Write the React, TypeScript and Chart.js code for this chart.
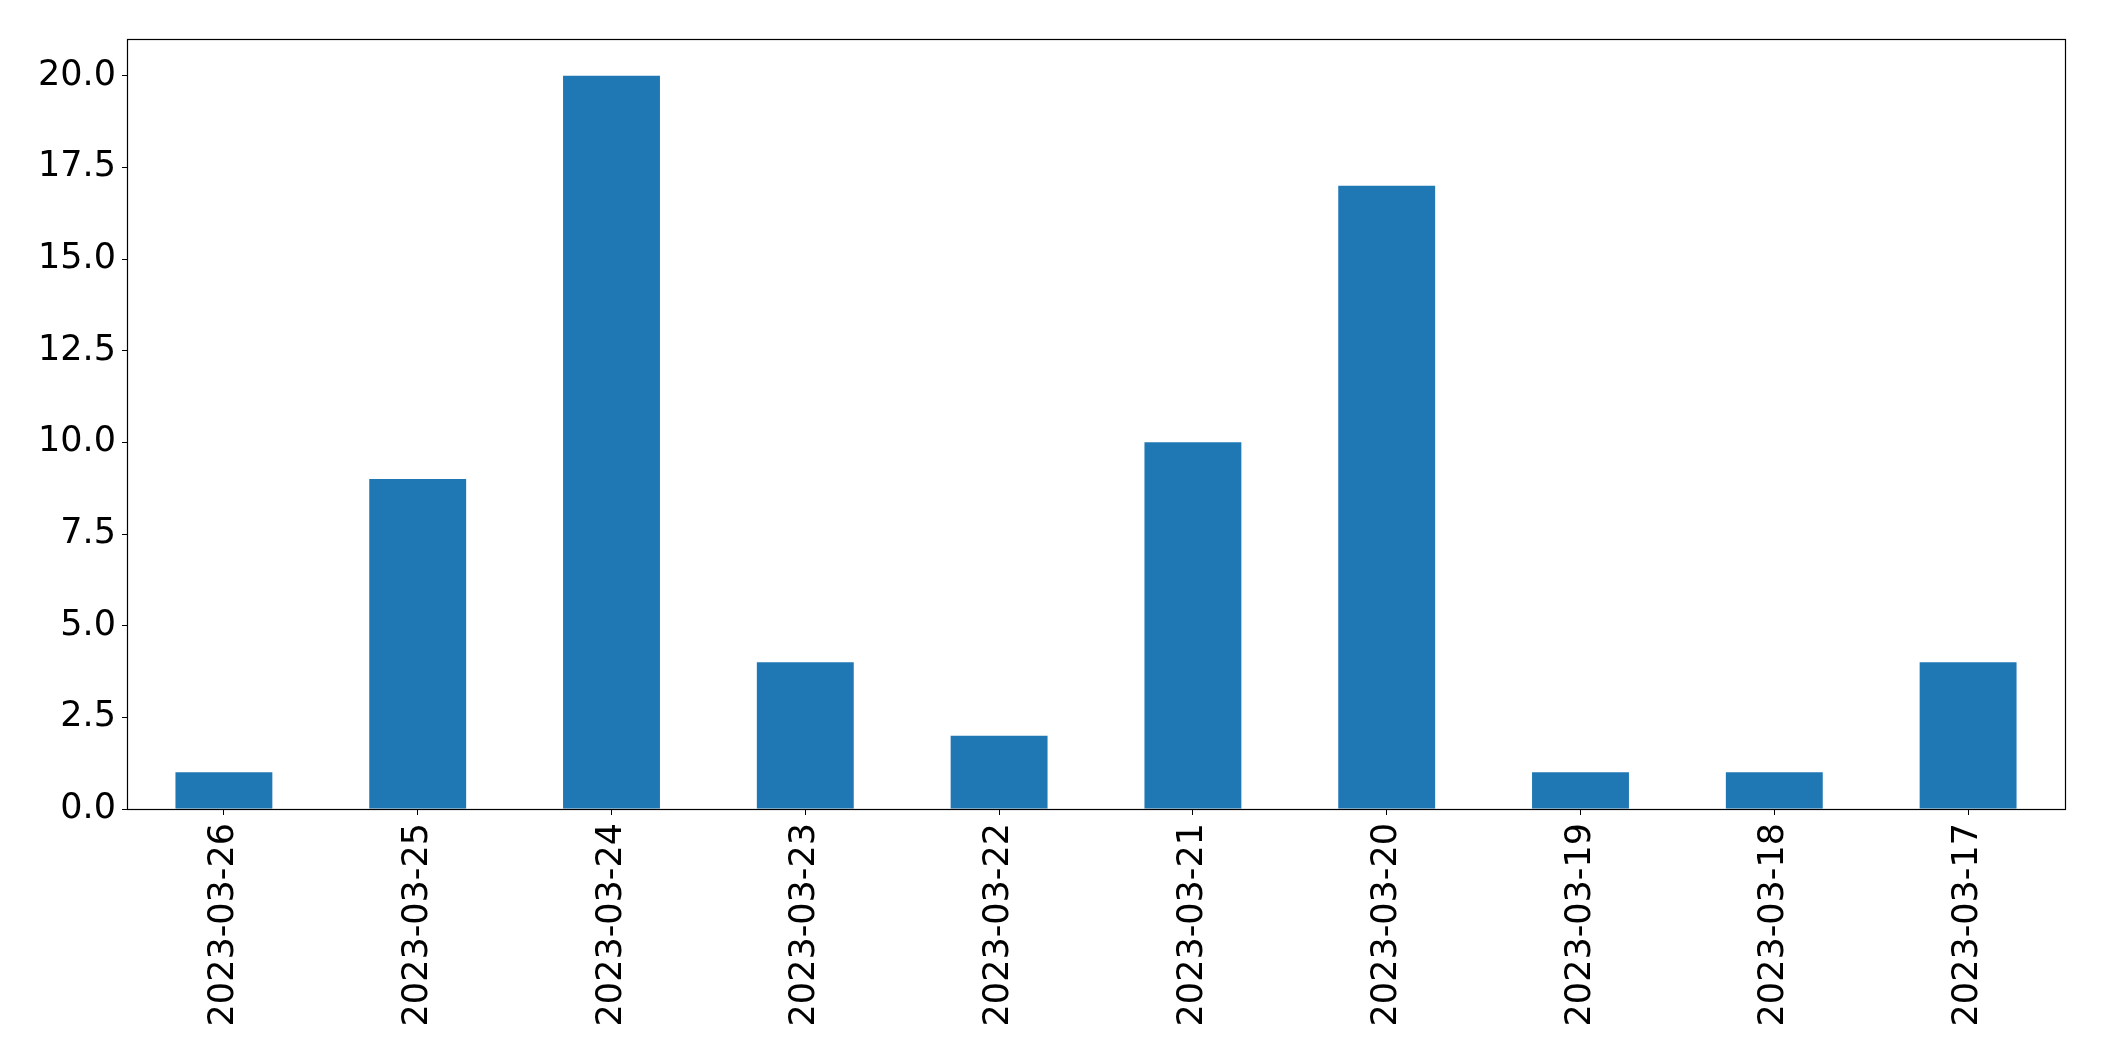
import React, { useEffect, useRef } from "react";
import { Chart, registerables } from "chart.js";

Chart.register(...registerables);

const categories = [
  "2023-03-26",
  "2023-03-25",
  "2023-03-24",
  "2023-03-23",
  "2023-03-22",
  "2023-03-21",
  "2023-03-20",
  "2023-03-19",
  "2023-03-18",
  "2023-03-17",
];
const counts = [1, 9, 20, 4, 2, 10, 17, 1, 1, 4];
const yTicks = [0, 2.5, 5, 7.5, 10, 12.5, 15, 17.5, 20];
const yMax = 21;

const W = 2104;
const H = 1061;
const FONT = "'DejaVu Sans', sans-serif";

const boxPlugin = {
  id: "boxPlugin",
  afterDraw(chart: any) {
    const { ctx, chartArea } = chart;
    ctx.save();
    ctx.strokeStyle = "#000";
    ctx.lineWidth = 1.2;
    ctx.strokeRect(
      Math.round(chartArea.left) + 0.5,
      Math.round(chartArea.top) + 0.5,
      Math.round(chartArea.right - chartArea.left),
      Math.round(chartArea.bottom - chartArea.top)
    );
    ctx.restore();
  },
};

export default function App() {
  const ref = useRef<HTMLCanvasElement | null>(null);
  useEffect(() => {
    if (!ref.current) return;
    const chart = new Chart(ref.current, {
      type: "bar",
      data: {
        labels: categories,
        datasets: [
          {
            data: counts,
            backgroundColor: "#1f77b4",
            barPercentage: 0.5,
            categoryPercentage: 1,
          },
        ],
      },
      options: {
        responsive: false,
        animation: false,
        devicePixelRatio: 1,
        layout: { padding: { top: 39, right: 39, left: 0, bottom: 0 } },
        plugins: { legend: { display: false }, tooltip: { enabled: false } },
        scales: {
          x: {
            offset: true,
            grid: {
              display: true,
              drawOnChartArea: false,
              tickLength: 6,
              tickColor: "#000",
              offset: false,
            },
            border: { display: false },
            ticks: {
              color: "#000",
              font: { family: FONT, size: 35 },
              maxRotation: 90,
              minRotation: 90,
              padding: 8,
              autoSkip: false,
            },
            afterFit: (s: any) => {
              s.height = H - 809;
            },
          },
          y: {
            min: 0,
            max: yMax,
            grid: {
              display: true,
              drawOnChartArea: false,
              tickLength: 5,
              tickColor: "#000",
            },
            border: { display: false },
            ticks: {
              color: "#000",
              font: { family: FONT, size: 35 },
              padding: 6,
              autoSkip: false,
              callback: (v: any) => Number(v).toFixed(1),
            },
            afterBuildTicks: (s: any) => {
              s.ticks = yTicks.map((v) => ({ value: v }));
            },
            afterFit: (s: any) => {
              s.width = 127;
            },
          },
        },
      },
      plugins: [boxPlugin],
    });
    return () => chart.destroy();
  }, []);
  return (
    <canvas
      ref={ref}
      width={W}
      height={H}
      style={{ position: "fixed", left: 0, top: 0, width: W, height: H, background: "#fff" }}
    />
  );
}
